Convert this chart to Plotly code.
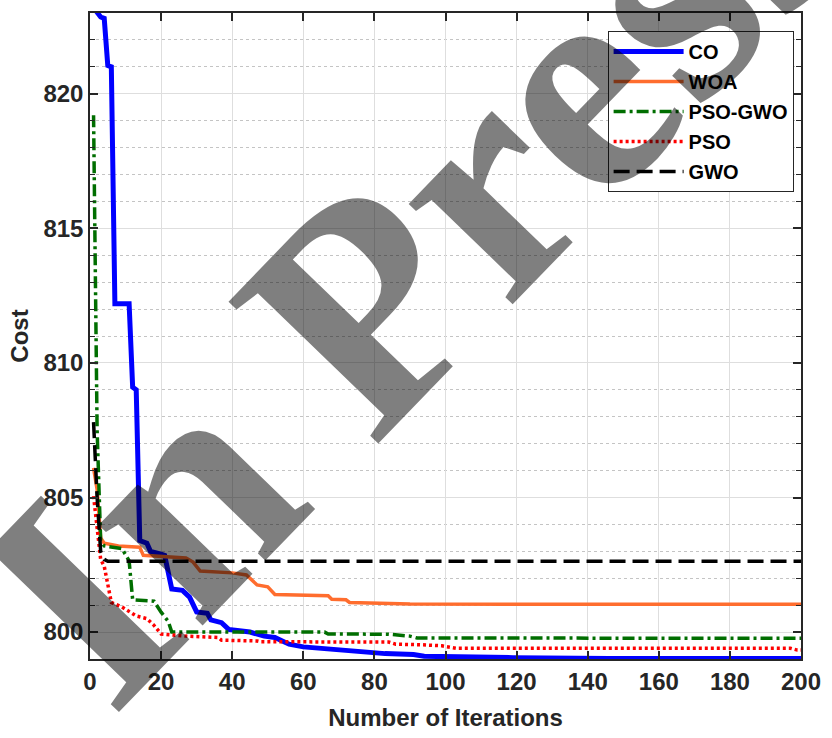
import plotly.graph_objects as go

# Convergence history (iteration, best cost) for each optimiser
co_iter = [1, 2, 3, 4, 5, 6, 7, 11, 12, 13, 14, 16, 17, 20, 21, 23, 26, 28, 30, 33, 34, 37, 39, 45,
           49, 52, 54, 56, 60, 69, 78, 83, 91, 94, 119, 146, 200]
co_cost = [823.2, 823.0, 822.85, 822.8, 821.05, 821.0, 812.2, 812.2, 809.1, 809.0, 803.4, 803.3,
           803.0, 802.9, 802.85, 801.6, 801.55, 801.3, 800.75, 800.7, 800.45, 800.35, 800.1, 800.0,
           799.85, 799.8, 799.65, 799.55, 799.45, 799.35, 799.25, 799.2, 799.17, 799.1, 799.05,
           799.02, 799.02]

woa_iter = [1, 2, 3, 4, 8, 14, 15, 21, 27, 29, 31, 40, 44, 47, 50, 52, 67, 68, 72, 73, 83, 90, 200]
woa_cost = [806.1, 805.3, 803.5, 803.3, 803.2, 803.15, 802.85, 802.8, 802.75, 802.6, 802.27, 802.2,
            802.12, 801.75, 801.68, 801.4, 801.35, 801.22, 801.2, 801.1, 801.07, 801.04, 801.03]

psogwo_iter = [1, 2, 3, 4, 9, 11, 12, 18, 20, 22, 23, 66, 67, 84, 90, 92, 200]
psogwo_cost = [819.2, 807.5, 803.4, 803.2, 803.1, 802.65, 801.2, 801.15, 800.74, 800.4, 800.0,
               800.0, 799.93, 799.92, 799.85, 799.78, 799.77]

pso_iter = [1, 2, 3, 4, 6, 9, 13, 16, 18, 20, 27, 36, 37, 47, 48, 84, 86, 93, 99, 103, 197, 199, 200]
pso_cost = [805.05, 803.8, 802.7, 802.45, 801.1, 800.93, 800.6, 800.5, 800.25, 799.93, 799.85,
            799.8, 799.7, 799.67, 799.64, 799.63, 799.55, 799.53, 799.49, 799.4, 799.4, 799.33,
            799.33]

gwo_iter = [1, 2, 3, 4, 5, 200]
gwo_cost = [807.8, 805.0, 803.0, 802.7, 802.63, 802.63]

x_ticks = [0, 20, 40, 60, 80, 100, 120, 140, 160, 180, 200]
y_ticks = [800, 805, 810, 815, 820]

series = [
    ("CO", co_iter, co_cost, dict(color="#0000FF", width=5)),
    ("WOA", woa_iter, woa_cost, dict(color="#FF6D2E", width=3.5)),
    ("PSO-GWO", psogwo_iter, psogwo_cost, dict(color="#006E00", width=3.5, dash="12px,4px,3px,4px")),
    ("PSO", pso_iter, pso_cost, dict(color="#FF0000", width=3.5, dash="3px,3px")),
    ("GWO", gwo_iter, gwo_cost, dict(color="#000000", width=3.5, dash="16px,7px")),
]

fig = go.Figure()
for name, xs, ys, line in series:
    fig.add_trace(go.Scatter(x=xs, y=ys, mode="lines", name=name, line=line,
                             legendgroup=name))

axis_color = "#262626"
tick_font = dict(family="Liberation Sans, Arial, sans-serif", size=24, color=axis_color,
                 weight="bold")
title_font = dict(family="Liberation Sans, Arial, sans-serif", size=24, color=axis_color,
                  weight="bold")

fig.update_xaxes(
    range=[0, 200], tickvals=x_ticks, ticks="inside", ticklen=8, tickwidth=1.5,
    tickcolor=axis_color, showline=True, linecolor=axis_color, linewidth=1.5, mirror="ticks",
    showgrid=True, gridcolor="#DEDEDE", gridwidth=1, zeroline=False,
    tickfont=tick_font, title=dict(text="Number of Iterations", font=title_font, standoff=16),
)
fig.update_yaxes(
    range=[799, 823], tickvals=y_ticks, ticks="inside", ticklen=8, tickwidth=1.5,
    tickcolor=axis_color, showline=True, linecolor=axis_color, linewidth=1.5, mirror="ticks",
    showgrid=True, gridcolor="#DEDEDE", gridwidth=1, zeroline=False,
    minor=dict(dtick=1, tick0=799, ticks="inside", ticklen=5, tickwidth=1.2, tickcolor=axis_color,
               showgrid=True, gridcolor="#C4C4C4", griddash="dot", gridwidth=1),
    tickfont=tick_font, title=dict(text="Cost", font=title_font, standoff=8),
)

fig.update_layout(
    width=832, height=738, autosize=False,
    margin=dict(l=90, r=22, t=11, b=78),
    paper_bgcolor="white", plot_bgcolor="white",
    legend=dict(
        x=0.728, y=0.972, xanchor="left", yanchor="top",
        bgcolor="white", bordercolor=axis_color, borderwidth=1,
        font=dict(family="Liberation Sans, Arial, sans-serif", size=20, color="#000000",
                  weight="bold"),
        traceorder="grouped", tracegroupgap=1, itemwidth=70,
    ),
    # diagonal "In Press" watermark laid over the figure
    annotations=[dict(
        text="In Press", xref="paper", yref="paper", x=0.454, y=0.626,
        xanchor="center", yanchor="middle", showarrow=False, textangle=-46,
        font=dict(family="Liberation Serif, Times New Roman, serif", size=315,
                  color="rgba(0,0,0,0.5)", weight="bold"),
    )],
)

# move the watermark to the topmost svg layer so it also covers the legend box
raise_watermark = """
var gd = document.getElementById('{plot_id}');
function liftWatermark() {
  var svgs = gd.querySelectorAll('svg.main-svg');
  if (!svgs.length) return;
  var top = svgs[svgs.length - 1];
  gd.querySelectorAll('g.annotation').forEach(function (a) { top.appendChild(a); });
}
liftWatermark();
setTimeout(liftWatermark, 30);
setTimeout(liftWatermark, 300);
if (gd.on) gd.on('plotly_afterplot', liftWatermark);
"""

fig.write_html("out.html", post_script=raise_watermark)
